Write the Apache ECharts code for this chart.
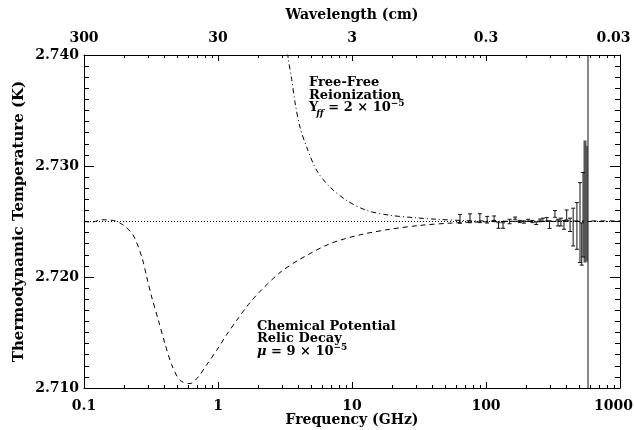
<!DOCTYPE html>
<html><head><meta charset="utf-8">
<script src="https://cdn.jsdelivr.net/npm/echarts@6/dist/echarts.min.js"></script>
<style>html,body{margin:0;padding:0;background:#fff}#c{width:634px;height:430px}</style>
</head><body><div id="c"></div>
<script>
// ---- tick data ----
const freqTicks = [0.1, 1, 10, 100, 1000];
const freqTickLabels = ['0.1', '1', '10', '100', '1000'];
const wavelengthTickLabels = ['300', '30', '3', '0.3', '0.03'];
const minorFreqTicks = [0.2, 0.3, 0.4, 0.5, 0.6, 0.7, 0.8, 0.9,
  2, 3, 4, 5, 6, 7, 8, 9,
  20, 30, 40, 50, 60, 70, 80, 90,
  200, 300, 400, 500, 600, 700, 800, 900];

// ---- CMB blackbody reference (dotted) ----
const cmbFreq = [0.1, 1000];
const cmbTemp = [2.725, 2.725];

// ---- Chemical potential / relic decay (dashed) ----
const muFreq = [0.1, 0.115, 0.135, 0.165, 0.195, 0.232, 0.27, 0.294, 0.32, 0.359, 0.402, 0.451, 0.52, 0.618, 0.713, 0.824, 0.978, 1.16, 1.38, 1.68, 2.06, 2.9, 4.09, 6.85, 11.5, 19.2, 32.2, 53.8, 90, 180, 400, 1000];
const muTemp = [2.7250, 2.72495, 2.72515, 2.7251, 2.7247, 2.7238, 2.7218, 2.7200, 2.7182, 2.7161, 2.7140, 2.7121, 2.7107, 2.7104, 2.7110, 2.7121, 2.7134, 2.7148, 2.7161, 2.7175, 2.7187, 2.7204, 2.7216, 2.7230, 2.7238, 2.7243, 2.72465, 2.72485, 2.72496, 2.72502, 2.72505, 2.72505];

// ---- Free-free reionization (dash-dot) ----
const ffFreq = [3.0, 3.35, 3.55, 3.76, 4.09, 4.59, 5.45, 6.85, 9.12, 12.85, 19.2, 30.4, 42.8, 70, 150, 1000];
const ffTemp = [2.7445, 2.7396, 2.7378, 2.7357, 2.7335, 2.7317, 2.7296, 2.7281, 2.7269, 2.7260, 2.72556, 2.72533, 2.7252, 2.72508, 2.72502, 2.7250];

// ---- measured spectrum with error bars ----
const dataFreq = [64, 76, 90, 102, 115, 124, 134, 150, 165, 179, 192, 206, 222, 237, 253, 266, 284, 298, 327, 345, 362, 382, 400, 424, 447, 477, 503, 518, 530, 577];
const dataTemp = [2.72524, 2.72529, 2.7253, 2.72516, 2.7253, 2.72464, 2.72464, 2.7250, 2.7253, 2.7250, 2.72495, 2.7251, 2.7250, 2.72485, 2.7251, 2.72515, 2.7252, 2.72471, 2.72568, 2.7249, 2.72495, 2.7247, 2.72559, 2.7247, 2.7245, 2.7246, 2.7249, 2.72297, 2.72561, 2.725];
const dataErr = [0.0004, 0.0004, 0.0004, 0.0003, 0.0002, 0.00025, 0.00025, 0.0002, 0.0001, 0.0001, 0.0001, 0.0001, 0.0001, 0.00012, 0.00012, 0.00015, 0.00015, 0.00033, 0.0003, 0.0003, 0.00035, 0.0004, 0.00045, 0.0006, 0.0017, 0.0021, 0.0036, 0.0019, 0.0038, 0.02];
const wideFreq = [548, 560];
const wideTemp = [2.7268, 2.7266];
const wideErr = [0.0055, 0.0052];

const FONT = '"DejaVu Serif", serif';
const txt = {fontFamily: FONT, fontWeight: 'bold', fontSize: 14, color: '#000'};
function tickIndex(v) {
  return freqTicks.findIndex(t => Math.abs(Math.log10(t) - Math.log10(v)) < 1e-6);
}
const black = {color: '#000', width: 1};

function logAxis(pos, major, labels, name) {
  return {
    type: 'log', logBase: 10, position: pos, min: 0.1, max: 1000,
    axisLine: {show: major, onZero: false, lineStyle: black},
    axisTick: {show: true, inside: true, length: major ? 6 : 3, customValues: major ? freqTicks : minorFreqTicks, lineStyle: black},
    axisLabel: major ? Object.assign({
      show: true, customValues: freqTicks, margin: pos === 'top' ? 10 : 11, hideOverlap: false,
      formatter: v => {
        const i = tickIndex(v);
        if (i < 0) return '';
        return i === freqTicks.length - 1 ? '{e|' + labels[i] + '}' : labels[i];
      },
      rich: {e: Object.assign({padding: [0, 13, 0, 0]}, txt)}
    }, txt) : {show: false},
    minorTick: {show: false}, splitLine: {show: false}, minorSplitLine: {show: false},
    name: name || '', nameLocation: 'middle', nameGap: pos === 'top' ? 33 : 25, nameMoveOverlap: false,
    nameTextStyle: txt
  };
}
function valAxis(pos, showLabel) {
  return {
    type: 'value', position: pos, min: 2.71, max: 2.74, interval: 0.01,
    axisLine: {show: true, onZero: false, lineStyle: black},
    axisTick: {show: true, inside: true, length: 10, lineStyle: black},
    minorTick: {show: true, splitNumber: 10, length: 5, lineStyle: black},
    axisLabel: showLabel ? Object.assign({show: true, margin: 5, formatter: v => v.toFixed(3)}, txt) : {show: false},
    splitLine: {show: false}, minorSplitLine: {show: false},
    name: showLabel ? 'Thermodynamic Temperature (K)' : '', nameLocation: 'middle', nameGap: 57, nameMoveOverlap: false,
    nameTextStyle: Object.assign({}, txt, {fontSize: 15})
  };
}

function errRender(color, lw, cap) {
  return function (params, api) {
    const x = api.value(0), y = api.value(1), e = api.value(2);
    const t = api.coord([x, y + e]), b = api.coord([x, y - e]);
    const st = {stroke: color, lineWidth: lw};
    return {type: 'group', children: [
      {type: 'line', shape: {x1: t[0], y1: t[1], x2: b[0], y2: b[1]}, style: st},
      {type: 'line', shape: {x1: t[0] - cap, y1: t[1], x2: t[0] + cap, y2: t[1]}, style: {stroke: color, lineWidth: 1}},
      {type: 'line', shape: {x1: b[0] - cap, y1: b[1], x2: b[0] + cap, y2: b[1]}, style: {stroke: color, lineWidth: 1}}
    ]};
  };
}

// annotation text runs
const mctx = document.createElement('canvas').getContext('2d');
function fontStr(s) { return (s.italic ? 'italic ' : '') + 'bold ' + s.size + 'px "DejaVu Serif"'; }
function run(x, baseline, segs) {
  const out = [];
  let cx = x;
  segs.forEach(s => {
    s.size = s.size || 13;
    const f = fontStr(s);
    mctx.font = f;
    out.push({type: 'text', x: cx, y: baseline + (s.dy || 0) - 0.33 * s.size, silent: true,
      style: {text: s.t, font: f, fill: '#000', textAlign: 'left', textVerticalAlign: 'middle'}});
    cx += mctx.measureText(s.t).width + (s.gap || 0);
  });
  return out;
}
const graphics = [].concat(
  run(309, 87, [{t: 'Free-Free'}]),
  run(309, 99.5, [{t: 'Reionization'}]),
  run(309, 112, [{t: 'Y', gap: -2}, {t: 'ff', size: 9, italic: true, dy: 5}, {t: ' = 2 × 10'}, {t: '−5', size: 9, dy: -5}]),
  run(257, 331, [{t: 'Chemical Potential'}]),
  run(257, 343, [{t: 'Relic Decay'}]),
  run(257, 355.5, [{t: 'μ', italic: true}, {t: ' = 9 × 10'}, {t: '−5', size: 9, dy: -5}])
);

const chart = echarts.init(document.getElementById('c'), null, {renderer: 'canvas'});
chart.setOption({
  animation: false,
  backgroundColor: '#fff',
  grid: {left: 84, right: 14, top: 55, bottom: 42, containLabel: false, outerBoundsMode: 'none'},
  xAxis: [
    logAxis('bottom', true, freqTickLabels, 'Frequency (GHz)'),
    logAxis('bottom', false),
    logAxis('top', true, wavelengthTickLabels, 'Wavelength (cm)'),
    logAxis('top', false)
  ],
  yAxis: [valAxis('left', true), valAxis('right', false)],
  series: [
    {type: 'line', name: 'CMB', data: cmbFreq.map((f, i) => [f, cmbTemp[i]]), symbol: 'none', silent: true, z: 2,
      lineStyle: {color: '#000', width: 1, type: [1, 2]}},
    {type: 'line', name: 'Chemical Potential', data: muFreq.map((f, i) => [f, muTemp[i]]), symbol: 'none', smooth: 0.3, silent: true, z: 3,
      lineStyle: {color: '#000', width: 1, type: [5, 4]}},
    {type: 'line', name: 'Free-Free', data: ffFreq.map((f, i) => [f, ffTemp[i]]), symbol: 'none', smooth: 0.3, silent: true, z: 3,
      lineStyle: {color: '#000', width: 1, type: [5, 3, 1, 3]}},
    {type: 'custom', name: 'wide', clip: true, z: 4, encode: {x: 0, y: 1}, renderItem: errRender('#555', 3, 0),
      data: wideFreq.map((f, i) => [f, wideTemp[i], wideErr[i]])},
    {type: 'custom', name: 'data', clip: true, z: 5, encode: {x: 0, y: 1}, renderItem: errRender('#111', 1, 2),
      data: dataFreq.map((f, i) => [f, dataTemp[i], dataErr[i]])}
  ],
  graphic: graphics
});
</script></body></html>
